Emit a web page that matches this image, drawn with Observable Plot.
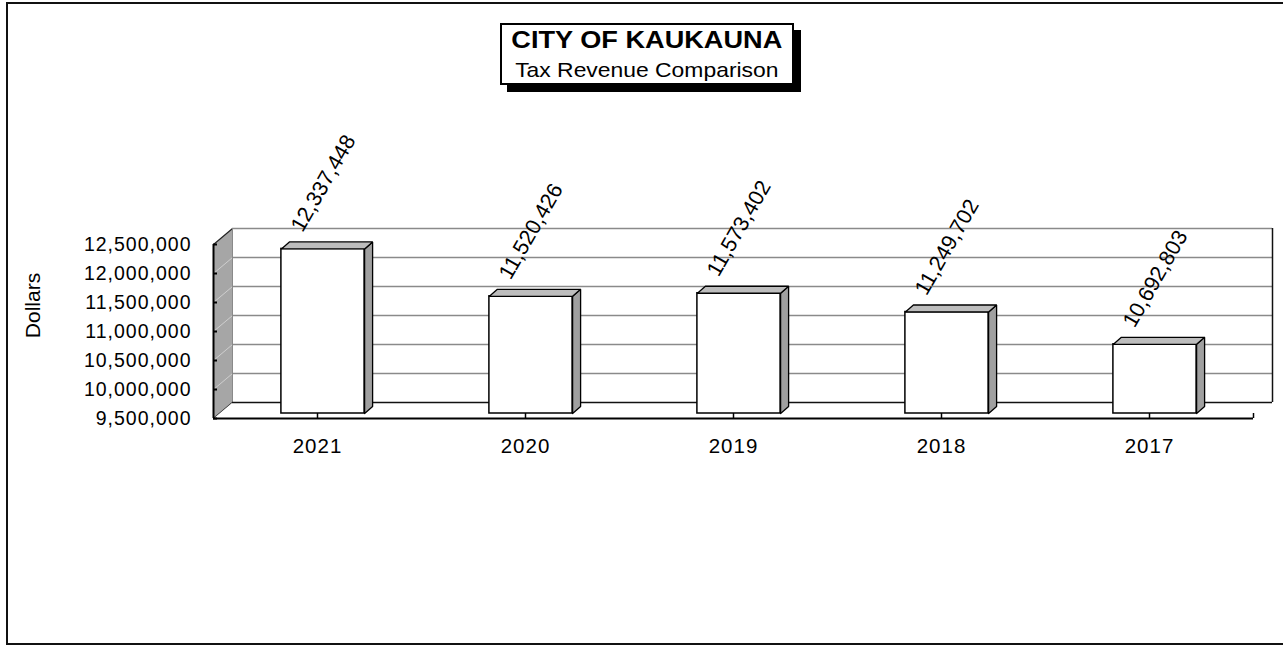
<!DOCTYPE html>
<html>
<head>
<meta charset="utf-8">
<script src="https://cdn.jsdelivr.net/npm/d3@7"></script>
<script src="https://cdn.jsdelivr.net/npm/@observablehq/plot@0.6"></script>
<style>
  html, body { margin: 0; padding: 0; background: white; overflow: hidden; }
  #wrap { position: relative; width: 1283px; height: 645px; font-family: "Liberation Sans", Arial, sans-serif; }
  #chart { position: absolute; left: 0; top: 0; }
  #frame { position: absolute; left: 6px; top: 2px; width: 1275px; height: 639px;
           border-left: 2px solid #111; border-top: 2px solid #111; border-bottom: 2px solid #111; border-right: 1px solid #999; }
  #titlebox { position: absolute; left: 500px; top: 23px; width: 290px; height: 58px; border: 2px solid #000;
              background: #fff; box-shadow: 7px 7px 0 #000; }
  #titlebox .t1, #titlebox .t2 { position: absolute; left: 0; width: 100%; text-align: center; white-space: nowrap; color: #000; }
  #titlebox .t1 { top: 4px; font-size: 23px; line-height: 23px; font-weight: bold; }
  #titlebox .t2 { top: 34px; font-size: 21px; line-height: 21px; }
  #titlebox span { display: inline-block; }
  #titlebox .t1 span { transform: scaleX(1.18); }
  #titlebox .t2 span { transform: scaleX(1.09); }
  g[aria-label="y-axis tick label"] text { letter-spacing: 1px; }
  g[aria-label="x-axis tick label"] text { letter-spacing: 1px; }
  g[aria-label="value label"] text { letter-spacing: 2.2px; }
  g[aria-label="y label"] text { letter-spacing: 1.5px; }
</style>
</head>
<body>
<div id="wrap">
  <div id="chart"></div>
  <div id="frame"></div>
  <div id="titlebox">
    <div class="t1"><span>CITY OF KAUKAUNA</span></div>
    <div class="t2"><span>Tax Revenue Comparison</span></div>
  </div>
</div>
<script>
// ---- data ----
const years = ["2021", "2020", "2019", "2018", "2017"];
const revenue = [12337448, 11520426, 11573402, 11249702, 10692803];
const yTicks = [9500000, 10000000, 10500000, 11000000, 11500000, 12000000, 12500000];
const yLabel = "Dollars";

// ---- layout ----
const W = 1283, H = 645, ML = 213, MR = 30, MT = 244, MB = 227;
const yMin = yTicks[0], yMax = yTicks[yTicks.length - 1];
const n = years.length;
const pxPerX = (W - ML - MR) / n;
const pxPerY = (H - MT - MB) / (yMax - yMin);
const ux = p => p / pxPerX;          // pixels -> x units
const uy = p => p / pxPerY;          // pixels (upward) -> y units
const WALL_DX = 19, WALL_DY = 16;    // depth of the chart box (px)
const BAR_DX = 8, BAR_DY = 7;        // depth of each bar (px)
const BAR_SHIFT_X = 5.5, BAR_SHIFT_Y = -5;
const BAR_HALF = 0.2;
const fmt = d3.format(",");

const bars = revenue.map((v, i) => ({i, v, year: years[i]}));

function poly(id, pts) { return pts.concat([pts[0]]).map(([x, y]) => ({id, x, y})); }

const leftWall = poly("lw", [[0, yMin], [0, yMax], [ux(WALL_DX), yMax + uy(WALL_DY)], [ux(WALL_DX), yMin + uy(WALL_DY)]]);
const floor = poly("fl", [[0, yMin], [n, yMin], [n + ux(WALL_DX), yMin + uy(WALL_DY)], [ux(WALL_DX), yMin + uy(WALL_DY)]]);

const sides = bars.flatMap(b => poly("s" + b.i, [
  [b.i + 0.5 + BAR_HALF, yMin], [b.i + 0.5 + BAR_HALF, b.v],
  [b.i + 0.5 + BAR_HALF + ux(BAR_DX), b.v + uy(BAR_DY)], [b.i + 0.5 + BAR_HALF + ux(BAR_DX), yMin + uy(BAR_DY)]
]));
const tops = bars.flatMap(b => poly("t" + b.i, [
  [b.i + 0.5 - BAR_HALF, b.v], [b.i + 0.5 + BAR_HALF, b.v],
  [b.i + 0.5 + BAR_HALF + ux(BAR_DX), b.v + uy(BAR_DY)], [b.i + 0.5 - BAR_HALF + ux(BAR_DX), b.v + uy(BAR_DY)]
]));

const inner = yTicks.slice(1, -1);

const chart = Plot.plot({
  width: W, height: H,
  marginLeft: ML, marginRight: MR, marginTop: MT, marginBottom: MB,
  style: {fontFamily: "'Liberation Sans', Arial, sans-serif", background: "transparent", color: "#000"},
  x: {domain: [0, n], axis: null},
  y: {domain: [yMin, yMax], axis: null},
  marks: [
    // left wall
    Plot.line(leftWall, {x: "x", y: "y", z: "id", fill: "#a6a6a6", stroke: "none"}),
    Plot.link(inner, {x1: 0, y1: d => d, x2: ux(WALL_DX), y2: d => d + uy(WALL_DY), stroke: "#cfcfcf", strokeWidth: 1}),
    Plot.link([yMin, yMax], {x1: 0, y1: d => d, x2: ux(WALL_DX), y2: d => d + uy(WALL_DY), stroke: "#222", strokeWidth: 1.2}),
    // back wall
    Plot.rect([0], {x1: 0, x2: n, y1: yMin, y2: yMax, dx: WALL_DX, dy: -WALL_DY, fill: "white"}),
    // floor
    Plot.line(floor, {x: "x", y: "y", z: "id", fill: "white", stroke: "none"}),
    Plot.ruleY(yTicks.slice(1), {y: d => d, x1: 0, x2: n, dx: WALL_DX, dy: -WALL_DY, stroke: "#8a8a8a", strokeWidth: 1.5}),
    Plot.ruleX([0], {x: d => d, y1: yMin, y2: yMax, dx: WALL_DX, dy: -WALL_DY, stroke: "#8a8a8a", strokeWidth: 1}),
    Plot.ruleX([n], {x: d => d, y1: yMin, y2: yMax, dx: WALL_DX, dy: -WALL_DY, stroke: "#111", strokeWidth: 1.5}),
    Plot.ruleY([yMin], {y: d => d, x1: 0, x2: n, dx: WALL_DX, dy: -WALL_DY, stroke: "#111", strokeWidth: 1.5}),
    // front axes
    Plot.ruleX([0], {x: d => d, y1: yMin, y2: yMax, stroke: "#000", strokeWidth: 2}),
    Plot.ruleY([yMin], {y: d => d, x1: 0, x2: n, stroke: "#000", strokeWidth: 2}),
    Plot.ruleY(yTicks, {y: d => d, x1: 0, x2: ux(4), stroke: "#000", strokeWidth: 2}),
    Plot.ruleX(years.map((d, i) => i + 0.5).concat([n]), {x: d => d, y1: yMin, y2: yMin + uy(5), stroke: "#000", strokeWidth: 1.5}),
    // bars
    Plot.rect(bars, {x1: d => d.i + 0.5 - BAR_HALF, x2: d => d.i + 0.5 + BAR_HALF, y1: yMin, y2: "v",
      dx: BAR_SHIFT_X, dy: BAR_SHIFT_Y, fill: "white", stroke: "#000", strokeWidth: 1.5}),
    Plot.line(sides, {x: "x", y: "y", z: "id", dx: BAR_SHIFT_X, dy: BAR_SHIFT_Y, fill: "#a0a0a0", stroke: "#000", strokeWidth: 1.3, strokeLinejoin: "miter"}),
    Plot.line(tops, {x: "x", y: "y", z: "id", dx: BAR_SHIFT_X, dy: BAR_SHIFT_Y, fill: "#bdbdbd", stroke: "#000", strokeWidth: 1.3, strokeLinejoin: "miter"}),
    // value labels
    Plot.text(bars, {x: d => d.i + 0.5, y: "v", text: d => fmt(d.v), rotate: -60, textAnchor: "start",
      dx: -21, dy: -24, fontSize: 21.5, fill: "#000", ariaLabel: "value label"}),
    // axes
    Plot.axisY({ticks: yTicks, tickFormat: fmt, tickSize: 0, tickPadding: 22, fontSize: 19.5, label: null}),
    Plot.axisX({ticks: years.map((d, i) => i + 0.5), tickFormat: d => years[Math.floor(d)], tickSize: 0, tickPadding: 20, fontSize: 20.5, label: null}),
    Plot.text([yLabel], {text: d => d, frameAnchor: "left", textAnchor: "middle", rotate: -90, dx: -180, dy: -26, fontSize: 21, fill: "#000", ariaLabel: "y label"})
  ]
});
document.getElementById("chart").appendChild(chart);
</script>
</body>
</html>
